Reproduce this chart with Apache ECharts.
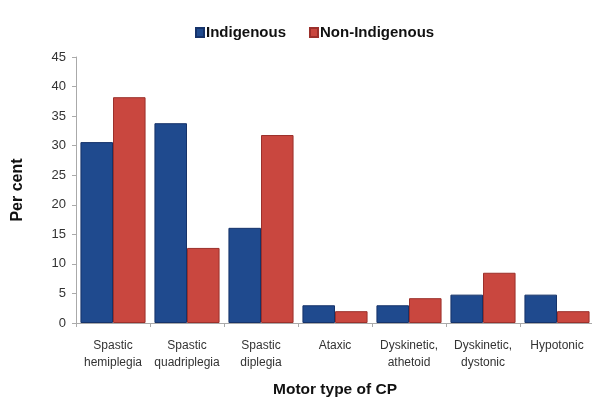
<!DOCTYPE html>
<html><head><meta charset="utf-8">
<script src="https://cdn.jsdelivr.net/npm/echarts@6/dist/echarts.min.js"></script>
<style>html,body{margin:0;padding:0;background:#fff}#c{width:592px;height:401px}</style>
</head><body><div id="c"></div>
<script>
const categories = ["Spastic\nhemiplegia","Spastic\nquadriplegia","Spastic\ndiplegia","Ataxic","Dyskinetic,\nathetoid","Dyskinetic,\ndystonic","Hypotonic"];
const indigenous = [30.6, 33.8, 16.1, 3.0, 3.0, 4.8, 4.8];
const nonIndigenous = [38.2, 12.7, 31.8, 2.0, 4.2, 8.5, 2.0];
const yTicks = [0,5,10,15,20,25,30,35,40,45];

const chart = echarts.init(document.getElementById('c'), null, {renderer:'canvas'});
chart.setOption({
  animation:false,
  legend:{
    top:20, left:190, itemWidth:8, itemHeight:9, itemGap:23,
    icon:'rect',
    textStyle:{fontFamily:'Liberation Sans, Arial', fontWeight:'bold', fontSize:15, color:'#111', padding:[0,0,0,-3]},
    data:['Indigenous','Non-Indigenous']
  },
  grid:{left:76, right:-2, top:57, bottom:78, outerBoundsMode:'none', containLabel:false},
  xAxis:{
    type:'category', data:categories,
    name:'Motor type of CP', nameLocation:'middle', nameGap:59,
    nameTextStyle:{fontFamily:'Liberation Sans, Arial', fontWeight:'bold', fontSize:15.5, color:'#111'},
    axisLine:{lineStyle:{color:'#aaa'}},
    axisTick:{show:true, length:4, lineStyle:{color:'#aaa'}},
    axisLabel:{fontFamily:'Liberation Sans, Arial', fontSize:12, color:'#333', margin:14, lineHeight:17, interval:0}
  },
  yAxis:{
    type:'value', min:0, max:45, interval:5,
    name:'Per cent', nameLocation:'middle', nameGap:50, nameRotate:90,
    nameTextStyle:{fontFamily:'Liberation Sans, Arial', fontWeight:'bold', fontSize:16, color:'#111'},
    axisLine:{show:true, lineStyle:{color:'#aaa'}},
    axisTick:{show:true, length:4, lineStyle:{color:'#aaa'}},
    splitLine:{show:false},
    axisLabel:{fontFamily:'Liberation Sans, Arial', fontSize:13, color:'#333', margin:10,
      formatter:function(v){return yTicks.indexOf(v)>=0?String(v):'';}}
  },
  series:[
    {name:'Indigenous', type:'bar', data:indigenous, barGap:'0%', barCategoryGap:'12%',
     itemStyle:{color:'#1F4A8E', borderColor:'#16336a', borderWidth:1}},
    {name:'Non-Indigenous', type:'bar', data:nonIndigenous, barGap:'0%', barCategoryGap:'12%',
     itemStyle:{color:'#C9473F', borderColor:'#9c302b', borderWidth:1}}
  ]
});
</script></body></html>
